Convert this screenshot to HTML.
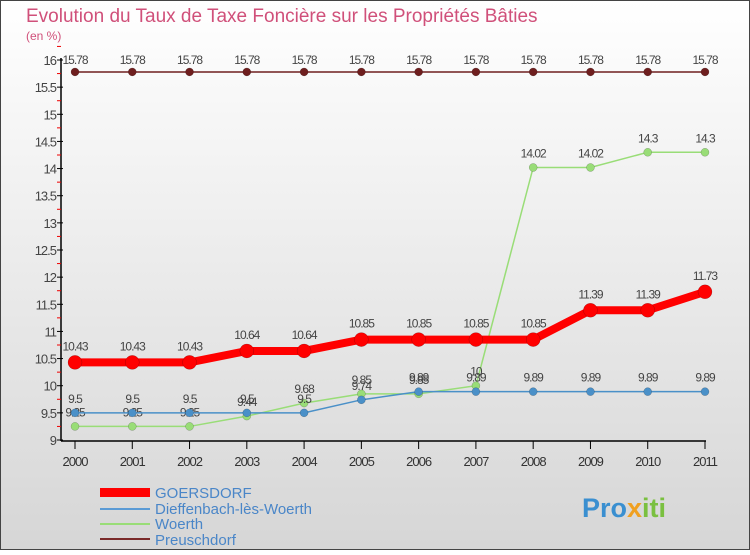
<!DOCTYPE html>
<html><head><meta charset="utf-8"><style>
body{margin:0}
#c{width:750px;height:550px;position:relative;font-family:"Liberation Sans",sans-serif;}
</style></head><body>
<div id="c">
<svg id="s" width="750" height="550" xmlns="http://www.w3.org/2000/svg">
<defs><linearGradient id="bg" x1="0" y1="0" x2="0" y2="1"><stop offset="0" stop-color="#ffffff"/><stop offset="1" stop-color="#d6d6d6"/></linearGradient></defs>
<rect x="0.5" y="0.5" width="749" height="549" fill="url(#bg)" stroke="#444"/>
<text x="26" y="22" font-size="19" fill="#d0507a">Evolution du Taux de Taxe Foncière sur les Propriétés Bâties</text>
<text x="26" y="40" font-size="12" fill="#d0507a">(en %)</text>
<g id="axes"></g><g id="marks"></g>
<g>
<rect x="100" y="488" width="50" height="9" fill="#ff0000"/>
<text x="155" y="498" font-size="15" fill="#4a86c8">GOERSDORF</text>
<rect x="100" y="508" width="50" height="2" fill="#5b9bd5"/>
<text x="155" y="514" font-size="15" fill="#4a86c8">Dieffenbach-lès-Woerth</text>
<rect x="100" y="523" width="50" height="2" fill="#99dd77"/>
<text x="155" y="529" font-size="15" fill="#4a86c8">Woerth</text>
<rect x="100" y="538" width="50" height="2" fill="#7a2a2a"/>
<text x="155" y="545" font-size="15" fill="#4a86c8">Preuschdorf</text>
</g>
<text x="582" y="517" font-size="27" font-weight="bold" fill="#3a8fd0">Pro<tspan fill="#f0a020">x</tspan><tspan fill="#7ac040">iti</tspan></text>
</svg>
</div>
<script>
const years=[2000,2001,2002,2003,2004,2005,2006,2007,2008,2009,2010,2011];
const yTicks=[9,9.5,10,10.5,11,11.5,12,12.5,13,13.5,14,14.5,15,15.5,16];
const goersdorf=[10.43,10.43,10.43,10.64,10.64,10.85,10.85,10.85,10.85,11.39,11.39,11.73];
const dieffenbach=[9.5,9.5,9.5,9.5,9.5,9.74,9.89,9.89,9.89,9.89,9.89,9.89];
const woerth=[9.25,9.25,9.25,9.44,9.68,9.85,9.85,10,14.02,14.02,14.3,14.3];
const preuschdorf=[15.78,15.78,15.78,15.78,15.78,15.78,15.78,15.78,15.78,15.78,15.78,15.78];
const NS="http://www.w3.org/2000/svg";
const xs=i=>75+i*(630/11);
const ys=v=>440-(v-9)*(380/7);
function mk(tag,at,p){const e=document.createElementNS(NS,tag);for(const k in at)e.setAttribute(k,at[k]);p.appendChild(e);return e;}
const ax=document.getElementById('axes'),mg=document.getElementById('marks');
let l=mk('line',{x1:61,y1:58,x2:61,y2:441,stroke:'#000','stroke-width':1.5},ax);


l=mk('line',{x1:61,y1:441,x2:706,y2:441,stroke:'#000','stroke-width':1.5},ax);


yTicks.forEach(v=>{const y=ys(v);
 mk('line',{x1:57,y1:y,x2:63,y2:y,stroke:'#000'},ax);
 mk('line',{x1:57,y1:ys(v+0.25),x2:61,y2:ys(v+0.25),stroke:'#e00'},ax);
 const t=mk('text',{x:56,y:y+5,'text-anchor':'end','font-size':13,fill:'#444','letter-spacing':'-1'},ax);t.textContent=String(v);
 
 
});
years.forEach((yr,i)=>{const x=xs(i);
 mk('line',{x1:x,y1:441,x2:x,y2:449,stroke:'#000'},ax);
 const t=mk('text',{x:x,y:466,'text-anchor':'middle','font-size':13,fill:'#333','letter-spacing':'-1'},ax);t.textContent=yr;
 
 
});
function series(d,name,color,w,r,lbl){
 const g=mk('g',{},mg);
 
 
 mk('polyline',{points:d.map((v,i)=>xs(i)+','+ys(v)).join(' '),fill:'none',stroke:color,'stroke-width':w},g);
 d.forEach((v,i)=>{const c=mk('circle',{cx:xs(i),cy:ys(v),r:r,fill:color,stroke:'rgba(0,0,0,0.3)','stroke-width':0.5},g);
  
  
  const t=mk('text',{x:xs(i),y:ys(v)-lbl,'text-anchor':'middle','font-size':12,fill:'#444','letter-spacing':'-1'},g);t.textContent=String(v);
  
  
 });
}
series(preuschdorf,'preuschdorf','#6e1e1e',1.5,4,8);
series(woerth,'woerth','#99dd77',1.5,4,10);
series(dieffenbach,'dieffenbach','#4a90c8',1.5,4,10);
series(goersdorf,'goersdorf','#ff0000',8,7,12);
</script>
</body></html>
